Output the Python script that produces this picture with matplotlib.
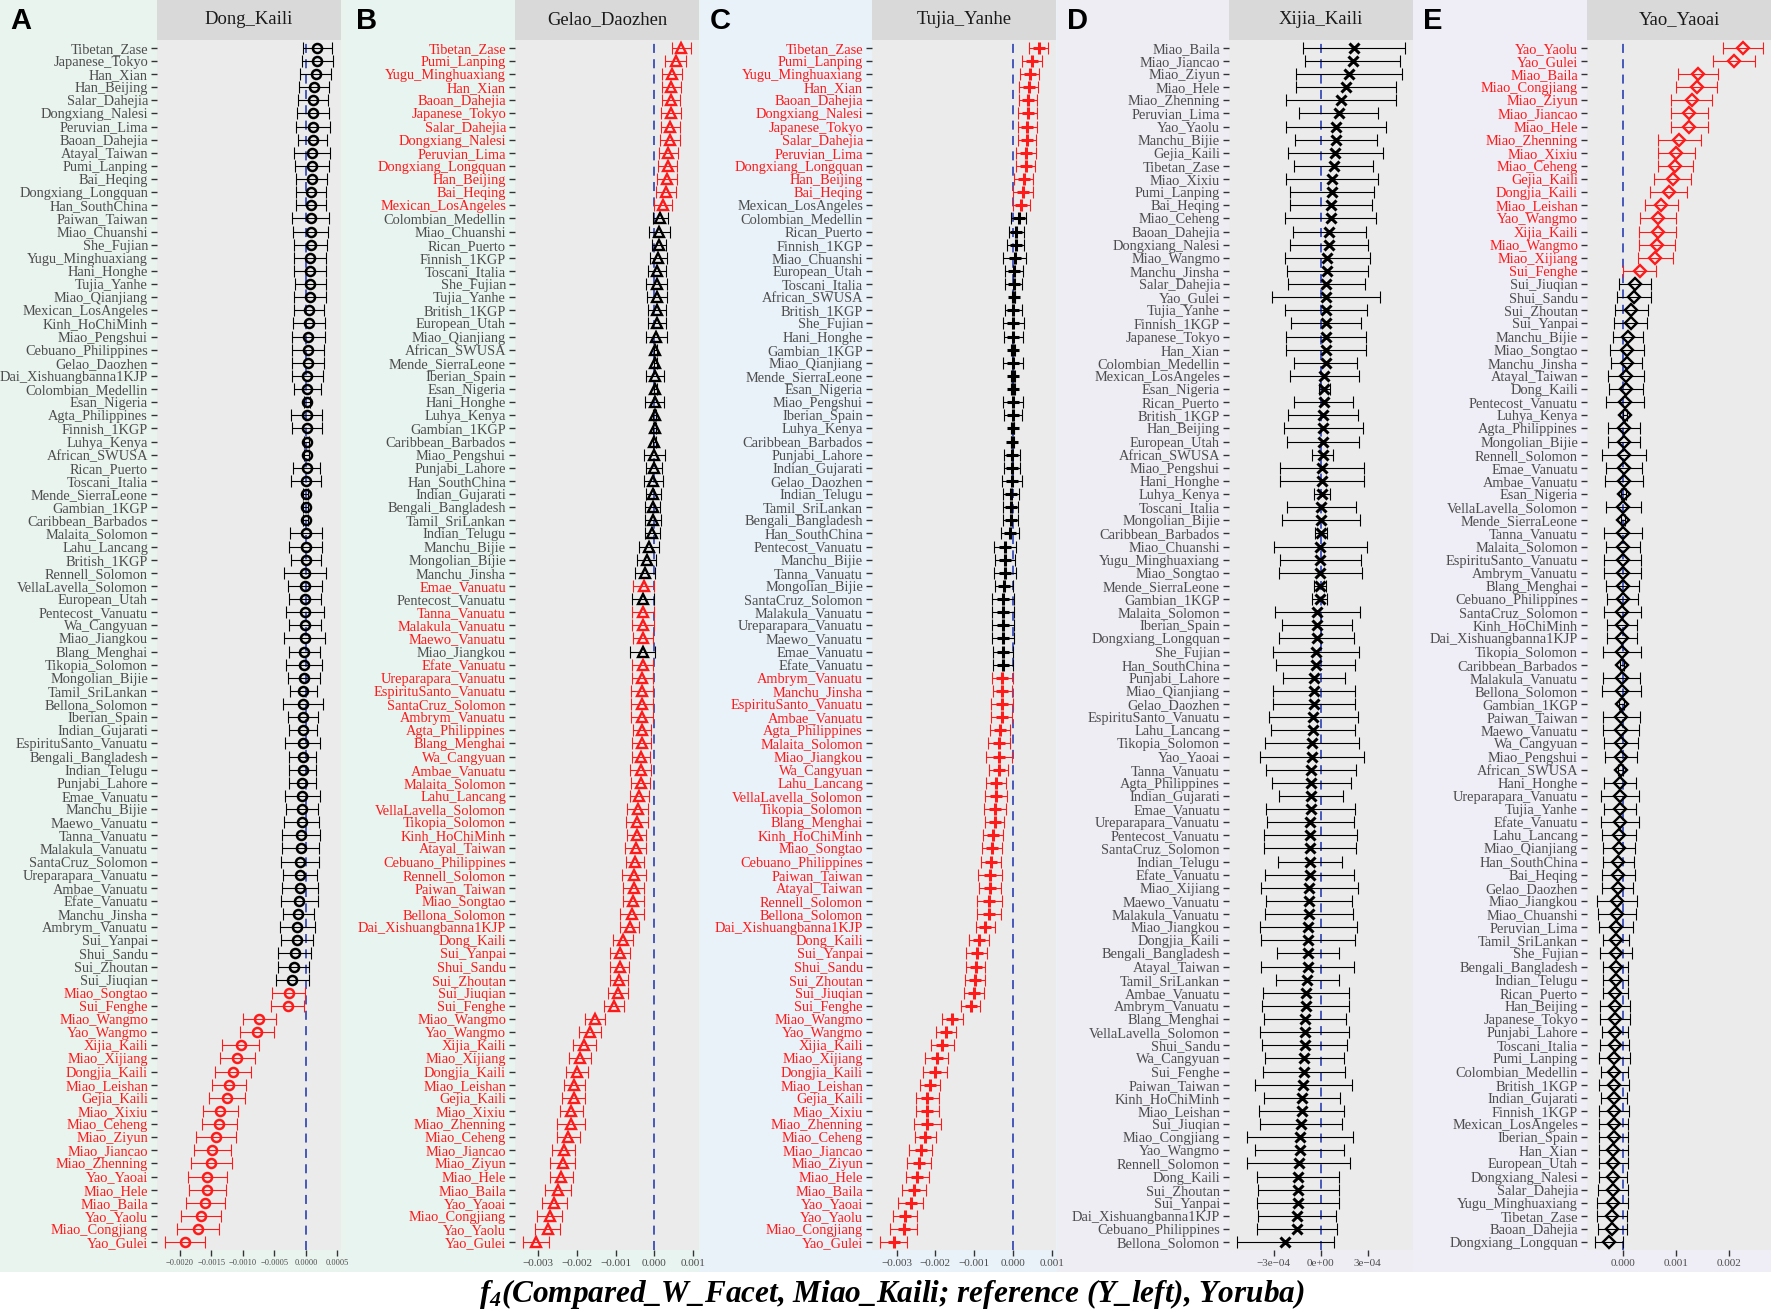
import matplotlib
matplotlib.use("Agg")
import matplotlib.pyplot as plt
from matplotlib.patches import Rectangle
import numpy as np

plt.rcParams['mathtext.fontset'] = 'custom'
plt.rcParams['mathtext.it'] = 'Liberation Serif:bold:italic'
plt.rcParams['mathtext.rm'] = 'Liberation Serif:bold:italic'
plt.rcParams['mathtext.bf'] = 'Liberation Serif:bold:italic'

# ---------------- data ----------------
A_title = "Dong_Kaili"
A_pops = ["Tibetan_Zase", "Japanese_Tokyo", "Han_Xian", "Han_Beijing", "Salar_Dahejia", "Dongxiang_Nalesi",
          "Peruvian_Lima", "Baoan_Dahejia", "Atayal_Taiwan", "Pumi_Lanping", "Bai_Heqing", "Dongxiang_Longquan",
          "Han_SouthChina", "Paiwan_Taiwan", "Miao_Chuanshi", "She_Fujian", "Yugu_Minghuaxiang", "Hani_Honghe",
          "Tujia_Yanhe", "Miao_Qianjiang", "Mexican_LosAngeles", "Kinh_HoChiMinh", "Miao_Pengshui",
          "Cebuano_Philippines", "Gelao_Daozhen", "Dai_Xishuangbanna1KJP", "Colombian_Medellin", "Esan_Nigeria",
          "Agta_Philippines", "Finnish_1KGP", "Luhya_Kenya", "African_SWUSA", "Rican_Puerto", "Toscani_Italia",
          "Mende_SierraLeone", "Gambian_1KGP", "Caribbean_Barbados", "Malaita_Solomon", "Lahu_Lancang",
          "British_1KGP", "Rennell_Solomon", "VellaLavella_Solomon", "European_Utah", "Pentecost_Vanuatu",
          "Wa_Cangyuan", "Miao_Jiangkou", "Blang_Menghai", "Tikopia_Solomon", "Mongolian_Bijie",
          "Tamil_SriLankan", "Bellona_Solomon", "Iberian_Spain", "Indian_Gujarati", "EspirituSanto_Vanuatu",
          "Bengali_Bangladesh", "Indian_Telugu", "Punjabi_Lahore", "Emae_Vanuatu", "Manchu_Bijie",
          "Maewo_Vanuatu", "Tanna_Vanuatu", "Malakula_Vanuatu", "SantaCruz_Solomon", "Ureparapara_Vanuatu",
          "Ambae_Vanuatu", "Efate_Vanuatu", "Manchu_Jinsha", "Ambrym_Vanuatu", "Sui_Yanpai", "Shui_Sandu",
          "Sui_Zhoutan", "Sui_Jiuqian", "Miao_Songtao", "Sui_Fenghe", "Miao_Wangmo", "Yao_Wangmo",
          "Xijia_Kaili", "Miao_Xijiang", "Dongjia_Kaili", "Miao_Leishan", "Gejia_Kaili", "Miao_Xixiu",
          "Miao_Ceheng", "Miao_Ziyun", "Miao_Jiancao", "Miao_Zhenning", "Yao_Yaoai", "Miao_Hele",
          "Miao_Baila", "Yao_Yaolu", "Miao_Congjiang", "Yao_Gulei"]
A_f4 = [1.79, 1.79, 1.53, 1.26, 1.16, 1.16, 1.11, 1.05, 1.00, 0.95, 0.89, 0.79, 0.79, 0.79, 0.74, 0.74,
        0.68, 0.68, 0.68, 0.63, 0.47, 0.47, 0.37, 0.32, 0.26, 0.21, 0.21, 0.16, 0.11, 0.11, 0.16, 0.16,
        0.11, 0.00, 0.00, 0.00, 0.00, -0.05, -0.05, -0.05, -0.11, -0.16, -0.16, -0.16, -0.16, -0.21,
        -0.26, -0.26, -0.37, -0.42, -0.42, -0.47, -0.47, -0.53, -0.53, -0.53, -0.58, -0.58, -0.63, -0.68,
        -0.74, -0.84, -0.95, -0.95, -1.00, -1.05, -1.21, -1.37, -1.42, -1.79, -1.95, -2.16, -2.74, -2.89,
        -7.42, -7.74, -10.37, -10.89, -11.63, -12.21, -12.53, -13.63, -13.74, -14.32, -14.84, -15.00,
        -15.63, -15.63, -15.95, -16.68, -17.11, -19.16]
A_err = [2.32, 2.45, 2.40, 2.42, 2.42, 2.55, 2.74, 2.29, 2.87, 2.68, 2.50, 2.37, 2.42, 2.95, 2.84, 2.63,
         2.50, 2.55, 2.45, 2.50, 2.37, 2.50, 2.58, 2.55, 2.55, 2.45, 2.18, 0.47, 2.50, 2.37, 0.40, 0.40,
         2.10, 2.37, 0.40, 0.40, 0.40, 2.55, 2.63, 2.40, 3.34, 2.71, 2.50, 3.00, 2.50, 3.21, 2.42, 2.84,
         2.55, 2.13, 3.16, 2.37, 2.18, 2.84, 2.10, 2.18, 2.18, 2.79, 2.60, 2.76, 3.05, 2.92, 2.95, 2.74,
         2.84, 2.95, 2.50, 2.82, 2.50, 2.58, 2.42, 2.58, 2.58, 2.60, 2.60, 2.68, 2.95, 2.82, 2.87, 2.68,
         2.84, 2.79, 2.76, 3.16, 2.92, 3.21, 3.13, 2.89, 3.03, 3.16, 3.34, 3.16]
A_sig = [0, 0, 0, 0, 0, 0, 0, 0, 0, 0,
         0, 0, 0, 0, 0, 0, 0, 0, 0, 0,
         0, 0, 0, 0, 0, 0, 0, 0, 0, 0,
         0, 0, 0, 0, 0, 0, 0, 0, 0, 0,
         0, 0, 0, 0, 0, 0, 0, 0, 0, 0,
         0, 0, 0, 0, 0, 0, 0, 0, 0, 0,
         0, 0, 0, 0, 0, 0, 0, 0, 0, 0,
         0, 0, 1, 1, 1, 1, 1, 1, 1, 1,
         1, 1, 1, 1, 1, 1, 1, 1, 1, 1,
         1, 1]
A_ticks = [-0.0020, -0.0015, -0.0010, -0.0005, 0.0, 0.0005]
A_ticklabels = ["\u22120.0020", "\u22120.0015", "\u22120.0010", "\u22120.0005", "0.0000", "0.0005"]

B_title = "Gelao_Daozhen"
B_pops = ["Tibetan_Zase", "Pumi_Lanping", "Yugu_Minghuaxiang", "Han_Xian", "Baoan_Dahejia", "Japanese_Tokyo",
          "Salar_Dahejia", "Dongxiang_Nalesi", "Peruvian_Lima", "Dongxiang_Longquan", "Han_Beijing",
          "Bai_Heqing", "Mexican_LosAngeles", "Colombian_Medellin", "Miao_Chuanshi", "Rican_Puerto",
          "Finnish_1KGP", "Toscani_Italia", "She_Fujian", "Tujia_Yanhe", "British_1KGP", "European_Utah",
          "Miao_Qianjiang", "African_SWUSA", "Mende_SierraLeone", "Iberian_Spain", "Esan_Nigeria",
          "Hani_Honghe", "Luhya_Kenya", "Gambian_1KGP", "Caribbean_Barbados", "Miao_Pengshui",
          "Punjabi_Lahore", "Han_SouthChina", "Indian_Gujarati", "Bengali_Bangladesh", "Tamil_SriLankan",
          "Indian_Telugu", "Manchu_Bijie", "Mongolian_Bijie", "Manchu_Jinsha", "Emae_Vanuatu",
          "Pentecost_Vanuatu", "Tanna_Vanuatu", "Malakula_Vanuatu", "Maewo_Vanuatu", "Miao_Jiangkou",
          "Efate_Vanuatu", "Ureparapara_Vanuatu", "EspirituSanto_Vanuatu", "SantaCruz_Solomon",
          "Ambrym_Vanuatu", "Agta_Philippines", "Blang_Menghai", "Wa_Cangyuan", "Ambae_Vanuatu",
          "Malaita_Solomon", "Lahu_Lancang", "VellaLavella_Solomon", "Tikopia_Solomon", "Kinh_HoChiMinh",
          "Atayal_Taiwan", "Cebuano_Philippines", "Rennell_Solomon", "Paiwan_Taiwan", "Miao_Songtao",
          "Bellona_Solomon", "Dai_Xishuangbanna1KJP", "Dong_Kaili", "Sui_Yanpai", "Shui_Sandu",
          "Sui_Zhoutan", "Sui_Jiuqian", "Sui_Fenghe", "Miao_Wangmo", "Yao_Wangmo", "Xijia_Kaili",
          "Miao_Xijiang", "Dongjia_Kaili", "Miao_Leishan", "Gejia_Kaili", "Miao_Xixiu", "Miao_Zhenning",
          "Miao_Ceheng", "Miao_Jiancao", "Miao_Ziyun", "Miao_Hele", "Miao_Baila", "Yao_Yaoai",
          "Miao_Congjiang", "Yao_Yaolu", "Yao_Gulei"]
B_f4 = [6.92, 5.47, 4.53, 4.36, 4.27, 4.27, 4.10, 4.02, 3.59, 3.42, 3.25, 2.99, 2.31,
        1.54, 1.28, 1.20, 1.03, 0.68, 0.60, 0.60, 0.60, 0.60, 0.51, 0.26, 0.26, 0.17, 0.17, 0.09, 0.09,
        0.09, 0.00, 0.00, -0.17, -0.26, -0.26, -0.43, -0.43, -0.51, -1.37, -2.05, -2.48,
        -2.74, -2.91, -2.91, -2.91, -2.91, -3.08,
        -3.08, -3.16, -3.16, -3.25, -3.25, -3.33, -3.33, -3.42, -3.50, -3.59, -3.93, -4.27, -4.44, -4.62,
        -4.87, -5.04, -5.21, -5.38, -5.47, -5.81, -6.41, -8.21, -8.89, -8.97, -9.15, -9.49, -10.34,
        -15.30, -16.58, -18.03, -19.15, -19.91, -20.60, -20.85, -21.45, -21.54, -22.14, -23.33, -23.68,
        -24.02, -24.87, -25.81, -27.01, -27.52, -30.43]
B_err = [2.39, 2.65, 2.48, 2.48, 2.39, 2.56, 2.39, 2.48, 2.39, 2.39, 2.56, 2.65, 2.31,
         1.92, 2.74, 1.84, 2.31, 2.35, 2.69, 2.56, 2.26, 2.26, 2.61, 0.40, 0.40, 2.26, 0.40, 2.48, 0.40,
         0.40, 0.40, 2.65, 2.09, 2.44, 2.01, 1.97, 2.01, 2.01, 2.65, 2.52, 2.52,
         2.74, 2.86, 2.86, 2.78, 2.65, 3.12,
         2.82, 2.69, 2.82, 2.90, 2.86, 2.31, 2.39, 2.39, 2.69, 2.56, 2.48, 2.69, 2.78, 2.44, 2.78, 2.39,
         3.12, 2.74, 2.69, 2.99, 2.35, 2.56, 2.56, 2.48, 2.35, 2.56, 2.61, 2.65, 2.74, 2.95, 2.91, 2.86,
         2.82, 3.08, 2.99, 3.55, 2.86, 2.99, 3.29, 2.99, 3.29, 3.21, 3.29, 3.12, 3.33]
B_sig = [1, 1, 1, 1, 1, 1, 1, 1, 1, 1,
         1, 1, 1, 0, 0, 0, 0, 0, 0, 0,
         0, 0, 0, 0, 0, 0, 0, 0, 0, 0,
         0, 0, 0, 0, 0, 0, 0, 0, 0, 0,
         0, 1, 0, 1, 1, 1, 0, 1, 1, 1,
         1, 1, 1, 1, 1, 1, 1, 1, 1, 1,
         1, 1, 1, 1, 1, 1, 1, 1, 1, 1,
         1, 1, 1, 1, 1, 1, 1, 1, 1, 1,
         1, 1, 1, 1, 1, 1, 1, 1, 1, 1,
         1, 1]
B_ticks = [-0.003, -0.002, -0.001, 0.0, 0.001]
B_ticklabels = ["\u22120.003", "\u22120.002", "\u22120.001", "0.000", "0.001"]

C_title = "Tujia_Yanhe"
C_pops = ["Tibetan_Zase", "Pumi_Lanping", "Yugu_Minghuaxiang", "Han_Xian", "Baoan_Dahejia", "Dongxiang_Nalesi",
          "Japanese_Tokyo", "Salar_Dahejia", "Peruvian_Lima", "Dongxiang_Longquan", "Han_Beijing",
          "Bai_Heqing", "Mexican_LosAngeles", "Colombian_Medellin", "Rican_Puerto", "Finnish_1KGP",
          "Miao_Chuanshi", "European_Utah", "Toscani_Italia", "African_SWUSA", "British_1KGP", "She_Fujian",
          "Hani_Honghe", "Gambian_1KGP", "Miao_Qianjiang", "Mende_SierraLeone", "Esan_Nigeria",
          "Miao_Pengshui", "Iberian_Spain", "Luhya_Kenya", "Caribbean_Barbados", "Punjabi_Lahore",
          "Indian_Gujarati", "Gelao_Daozhen", "Indian_Telugu", "Tamil_SriLankan", "Bengali_Bangladesh",
          "Han_SouthChina", "Pentecost_Vanuatu", "Manchu_Bijie", "Tanna_Vanuatu", "Mongolian_Bijie",
          "SantaCruz_Solomon", "Malakula_Vanuatu", "Ureparapara_Vanuatu", "Maewo_Vanuatu", "Emae_Vanuatu",
          "Efate_Vanuatu", "Ambrym_Vanuatu", "Manchu_Jinsha", "EspirituSanto_Vanuatu", "Ambae_Vanuatu",
          "Agta_Philippines", "Malaita_Solomon", "Miao_Jiangkou", "Wa_Cangyuan", "Lahu_Lancang",
          "VellaLavella_Solomon", "Tikopia_Solomon", "Blang_Menghai", "Kinh_HoChiMinh", "Miao_Songtao",
          "Cebuano_Philippines", "Paiwan_Taiwan", "Atayal_Taiwan", "Rennell_Solomon", "Bellona_Solomon",
          "Dai_Xishuangbanna1KJP", "Dong_Kaili", "Sui_Yanpai", "Shui_Sandu", "Sui_Zhoutan", "Sui_Jiuqian",
          "Sui_Fenghe", "Miao_Wangmo", "Yao_Wangmo", "Xijia_Kaili", "Miao_Xijiang", "Dongjia_Kaili",
          "Miao_Leishan", "Gejia_Kaili", "Miao_Xixiu", "Miao_Zhenning", "Miao_Ceheng", "Miao_Jiancao",
          "Miao_Ziyun", "Miao_Hele", "Miao_Baila", "Yao_Yaoai", "Yao_Yaolu", "Miao_Congjiang", "Yao_Gulei"]
C_f4 = [6.58, 4.87, 4.27, 4.02, 3.85, 3.85, 3.68, 3.59, 3.42, 3.25, 2.82, 2.65, 2.14,
        1.45, 0.85, 0.68, 0.43, 0.34, 0.17, 0.17, 0.09, 0.09, 0.09, 0.00, 0.00, 0.00, 0.00, 0.00, 0.00,
        -0.09, -0.17, -0.26, -0.26, -0.34, -0.51, -0.60, -0.60, -0.77, -2.05, -2.05, -2.14, -2.31,
        -2.48, -2.56, -2.56, -2.56, -2.56, -2.56,
        -2.74, -2.74, -2.82, -2.91, -3.42, -3.50, -3.59, -3.68, -4.27, -4.36, -4.70, -4.70, -5.13,
        -5.38, -5.64, -5.90, -5.98, -6.07, -6.15, -7.09, -8.72, -9.40, -9.66, -9.83, -10.09, -10.94,
        -15.64, -17.26, -18.20, -19.66, -20.09, -21.37, -22.05, -22.05, -22.14, -22.65, -23.76,
        -24.19, -24.62, -25.56, -26.32, -27.78, -28.20, -30.77]
C_err = [2.35, 2.56, 2.56, 2.44, 2.31, 2.44, 2.44, 2.35, 2.56, 2.44, 2.44, 2.56, 2.14,
         1.92, 1.92, 2.26, 2.99, 2.35, 2.22, 0.40, 2.26, 2.65, 2.48, 0.40, 2.56, 0.40, 0.40, 2.56, 2.31,
         0.40, 0.40, 2.09, 2.14, 2.56, 2.05, 2.01, 2.01, 2.35, 2.82, 2.52, 2.82, 2.31, 2.86, 2.74, 2.74,
         2.74, 2.69, 2.69,
         2.74, 2.48, 2.78, 2.78, 2.56, 2.82, 3.25, 2.44, 2.56, 2.82, 2.82, 2.39, 2.48, 2.65, 2.48, 3.12,
         2.91, 3.33, 3.12, 2.35, 2.56, 2.65, 2.56, 2.65, 2.65, 2.56, 2.69, 2.69, 2.95, 2.91, 2.99, 2.65,
         3.03, 3.03, 3.46, 2.74, 2.95, 3.12, 2.99, 3.12, 3.21, 3.16, 3.42, 3.42]
C_sig = [1, 1, 1, 1, 1, 1, 1, 1, 1, 1,
         1, 1, 1, 0, 0, 0, 0, 0, 0, 0,
         0, 0, 0, 0, 0, 0, 0, 0, 0, 0,
         0, 0, 0, 0, 0, 0, 0, 0, 0, 0,
         0, 0, 0, 0, 0, 0, 0, 0, 1, 1,
         1, 1, 1, 1, 1, 1, 1, 1, 1, 1,
         1, 1, 1, 1, 1, 1, 1, 1, 1, 1,
         1, 1, 1, 1, 1, 1, 1, 1, 1, 1,
         1, 1, 1, 1, 1, 1, 1, 1, 1, 1,
         1, 1]
C_black_labels = ["Mexican_LosAngeles"]
C_ticks = [-0.003, -0.002, -0.001, 0.0, 0.001]
C_ticklabels = ["\u22120.003", "\u22120.002", "\u22120.001", "0.000", "0.001"]

D_title = "Xijia_Kaili"
D_pops = ["Miao_Baila", "Miao_Jiancao", "Miao_Ziyun", "Miao_Hele", "Miao_Zhenning", "Peruvian_Lima",
          "Yao_Yaolu", "Manchu_Bijie", "Gejia_Kaili", "Tibetan_Zase", "Miao_Xixiu", "Pumi_Lanping",
          "Bai_Heqing", "Miao_Ceheng", "Baoan_Dahejia", "Dongxiang_Nalesi", "Miao_Wangmo", "Manchu_Jinsha",
          "Salar_Dahejia", "Yao_Gulei", "Tujia_Yanhe", "Finnish_1KGP", "Japanese_Tokyo", "Han_Xian",
          "Colombian_Medellin", "Mexican_LosAngeles", "Esan_Nigeria", "Rican_Puerto", "British_1KGP",
          "Han_Beijing", "European_Utah", "African_SWUSA", "Miao_Pengshui", "Hani_Honghe", "Luhya_Kenya",
          "Toscani_Italia", "Mongolian_Bijie", "Caribbean_Barbados", "Miao_Chuanshi", "Yugu_Minghuaxiang",
          "Miao_Songtao", "Mende_SierraLeone", "Gambian_1KGP", "Malaita_Solomon", "Iberian_Spain",
          "Dongxiang_Longquan", "She_Fujian", "Han_SouthChina", "Punjabi_Lahore", "Miao_Qianjiang",
          "Gelao_Daozhen", "EspirituSanto_Vanuatu", "Lahu_Lancang", "Tikopia_Solomon", "Yao_Yaoai",
          "Tanna_Vanuatu", "Agta_Philippines", "Indian_Gujarati", "Emae_Vanuatu", "Ureparapara_Vanuatu",
          "Pentecost_Vanuatu", "SantaCruz_Solomon", "Indian_Telugu", "Efate_Vanuatu", "Miao_Xijiang",
          "Maewo_Vanuatu", "Malakula_Vanuatu", "Miao_Jiangkou", "Dongjia_Kaili", "Bengali_Bangladesh",
          "Atayal_Taiwan", "Tamil_SriLankan", "Ambae_Vanuatu", "Ambrym_Vanuatu", "Blang_Menghai",
          "VellaLavella_Solomon", "Shui_Sandu", "Wa_Cangyuan", "Sui_Fenghe", "Paiwan_Taiwan",
          "Kinh_HoChiMinh", "Miao_Leishan", "Sui_Jiuqian", "Miao_Congjiang", "Yao_Wangmo",
          "Rennell_Solomon", "Dong_Kaili", "Sui_Zhoutan", "Sui_Yanpai", "Dai_Xishuangbanna1KJP",
          "Cebuano_Philippines", "Bellona_Solomon"]
D_f4 = [2.11, 2.03, 1.80, 1.61, 1.29, 1.14, 0.99, 0.97, 0.93, 0.82, 0.72, 0.70, 0.66, 0.63, 0.55, 0.53,
        0.42, 0.40, 0.36, 0.34, 0.34, 0.32, 0.32, 0.32, 0.30, 0.23, 0.23, 0.17, 0.15, 0.15, 0.13, 0.11,
        0.08, 0.08, 0.06, 0.04, 0.02, 0.02, -0.04, -0.04, -0.04, -0.06, -0.08, -0.23, -0.25, -0.27,
        -0.30, -0.32, -0.44, -0.46, -0.46, -0.49, -0.51, -0.55, -0.57, -0.61, -0.61, -0.63, -0.66, -0.68,
        -0.68, -0.70, -0.72, -0.72, -0.74, -0.76, -0.78, -0.80, -0.82, -0.82, -0.85, -0.87, -0.95, -0.97,
        -1.01, -1.04, -1.04, -1.06, -1.08, -1.12, -1.20, -1.23, -1.25, -1.33, -1.35, -1.42, -1.44, -1.44,
        -1.46, -1.52, -1.52, -2.26]
D_err = [3.24, 3.04, 3.39, 3.22, 3.52, 2.51, 3.19, 2.60, 3.04, 2.53, 2.93, 2.68, 2.61, 2.91, 2.33, 2.50,
         2.73, 2.58, 2.47, 3.44, 2.63, 2.22, 2.55, 2.56, 2.01, 2.19, 0.35, 1.86, 2.25, 2.51, 2.28, 0.66,
         2.66, 2.66, 0.51, 2.21, 2.49, 0.40, 2.96, 2.58, 2.66, 0.37, 0.50, 2.70, 2.22, 2.39,
         2.75, 2.53, 1.98, 2.62, 2.61, 2.85, 2.67, 3.00, 3.32, 2.88, 2.54, 2.03, 2.82, 2.78, 2.97, 2.94,
         2.04, 2.84, 3.09, 2.74, 2.81, 3.09, 3.03, 2.01, 2.94, 2.02, 2.74, 2.78, 2.61, 2.83, 2.71, 2.51,
         2.60, 3.09, 2.42, 2.72, 2.61, 3.38, 2.83, 3.29, 2.63, 2.59, 2.60, 2.47, 2.55, 3.07]
D_sig = [0, 0, 0, 0, 0, 0, 0, 0, 0, 0,
         0, 0, 0, 0, 0, 0, 0, 0, 0, 0,
         0, 0, 0, 0, 0, 0, 0, 0, 0, 0,
         0, 0, 0, 0, 0, 0, 0, 0, 0, 0,
         0, 0, 0, 0, 0, 0, 0, 0, 0, 0,
         0, 0, 0, 0, 0, 0, 0, 0, 0, 0,
         0, 0, 0, 0, 0, 0, 0, 0, 0, 0,
         0, 0, 0, 0, 0, 0, 0, 0, 0, 0,
         0, 0, 0, 0, 0, 0, 0, 0, 0, 0,
         0, 0]
D_ticks = [-3e-4, 0.0, 3e-4]
D_ticklabels = ["\u22123e\u221204", "0e+00", "3e\u221204"]

E_title = "Yao_Yaoai"
E_pops = ["Yao_Yaolu", "Yao_Gulei", "Miao_Baila", "Miao_Congjiang", "Miao_Ziyun", "Miao_Jiancao", "Miao_Hele",
          "Miao_Zhenning", "Miao_Xixiu", "Miao_Ceheng", "Gejia_Kaili", "Dongjia_Kaili", "Miao_Leishan",
          "Yao_Wangmo", "Xijia_Kaili", "Miao_Wangmo", "Miao_Xijiang", "Sui_Fenghe", "Sui_Jiuqian",
          "Shui_Sandu", "Sui_Zhoutan", "Sui_Yanpai", "Manchu_Bijie", "Miao_Songtao", "Manchu_Jinsha",
          "Atayal_Taiwan", "Dong_Kaili", "Pentecost_Vanuatu", "Luhya_Kenya", "Agta_Philippines",
          "Mongolian_Bijie", "Rennell_Solomon", "Emae_Vanuatu", "Ambae_Vanuatu", "Esan_Nigeria",
          "VellaLavella_Solomon", "Mende_SierraLeone", "Tanna_Vanuatu", "Malaita_Solomon",
          "EspirituSanto_Vanuatu", "Ambrym_Vanuatu", "Blang_Menghai", "Cebuano_Philippines",
          "SantaCruz_Solomon", "Kinh_HoChiMinh", "Dai_Xishuangbanna1KJP", "Tikopia_Solomon",
          "Caribbean_Barbados", "Malakula_Vanuatu", "Bellona_Solomon", "Gambian_1KGP", "Paiwan_Taiwan",
          "Maewo_Vanuatu", "Wa_Cangyuan", "Miao_Pengshui", "African_SWUSA", "Hani_Honghe",
          "Ureparapara_Vanuatu", "Tujia_Yanhe", "Efate_Vanuatu", "Lahu_Lancang", "Miao_Qianjiang",
          "Han_SouthChina", "Bai_Heqing", "Gelao_Daozhen", "Miao_Jiangkou", "Miao_Chuanshi",
          "Peruvian_Lima", "Tamil_SriLankan", "She_Fujian", "Bengali_Bangladesh", "Indian_Telugu",
          "Rican_Puerto", "Han_Beijing", "Japanese_Tokyo", "Punjabi_Lahore", "Toscani_Italia",
          "Pumi_Lanping", "Colombian_Medellin", "British_1KGP", "Indian_Gujarati", "Finnish_1KGP",
          "Mexican_LosAngeles", "Iberian_Spain", "Han_Xian", "European_Utah", "Dongxiang_Nalesi",
          "Salar_Dahejia", "Yugu_Minghuaxiang", "Tibetan_Zase", "Baoan_Dahejia", "Dongxiang_Longquan"]
E_f4 = [22.49, 20.81, 14.08, 13.83, 12.90, 12.46, 12.46, 10.59, 10.03, 9.84, 9.35, 8.60, 7.23, 6.60,
        6.54, 6.42, 6.04, 3.18,
        2.31, 2.12, 1.56, 1.43, 0.93, 0.75, 0.69, 0.62, 0.56, 0.44, 0.37, 0.25, 0.25, 0.19, 0.19, 0.19,
        0.12, 0.06, 0.06, 0.00, 0.00, 0.00, 0.00, -0.06, -0.06, -0.12, -0.12, -0.19,
        -0.19, -0.19, -0.25, -0.25, -0.25, -0.31, -0.37, -0.37, -0.37, -0.44, -0.50, -0.50, -0.56, -0.62,
        -0.69, -0.81, -0.87, -0.87, -1.00, -1.12, -1.18, -1.25, -1.31, -1.31, -1.37, -1.37, -1.43, -1.50,
        -1.50, -1.50, -1.56, -1.62, -1.62, -1.68, -1.68, -1.68, -1.74, -1.74, -1.81, -1.81, -1.81, -1.87,
        -1.93, -1.99, -1.99, -2.55]
E_err = [3.74, 3.96, 3.74, 3.83, 3.86, 3.46, 3.46, 4.05, 3.43, 3.27, 3.52, 3.43, 3.12, 3.40, 3.52, 3.36,
         3.30, 3.08,
         3.02, 3.24, 3.08, 3.05, 2.87, 3.15, 2.90, 3.36, 3.24, 3.55, 0.40, 3.02, 2.96, 4.14, 3.43, 3.49,
         0.40, 3.27, 0.40, 3.58, 3.21, 3.49, 3.49, 3.12, 2.87, 3.49, 2.80, 2.87,
         3.64, 0.40, 3.46, 3.61, 0.40, 3.52, 3.36, 3.18, 3.05, 0.40, 3.02, 3.55, 2.93, 3.55, 3.18, 2.99,
         2.90, 3.12, 2.87, 3.83, 3.58, 3.18, 2.43, 2.99, 2.34, 2.34, 2.34, 2.80, 2.83, 2.49, 2.71, 2.90,
         2.49, 2.74, 2.43, 2.74, 2.74, 2.74, 2.74, 2.74, 2.65, 2.77, 2.96, 2.80, 2.74, 2.62]
E_sig = [1, 1, 1, 1, 1, 1, 1, 1, 1, 1,
         1, 1, 1, 1, 1, 1, 1, 1, 0, 0,
         0, 0, 0, 0, 0, 0, 0, 0, 0, 0,
         0, 0, 0, 0, 0, 0, 0, 0, 0, 0,
         0, 0, 0, 0, 0, 0, 0, 0, 0, 0,
         0, 0, 0, 0, 0, 0, 0, 0, 0, 0,
         0, 0, 0, 0, 0, 0, 0, 0, 0, 0,
         0, 0, 0, 0, 0, 0, 0, 0, 0, 0,
         0, 0, 0, 0, 0, 0, 0, 0, 0, 0,
         0, 0]
E_ticks = [0.0, 0.001, 0.002]
E_ticklabels = ["0.000", "0.001", "0.002"]

UNIT = 1e-4  # f4 values above are given in units of 1e-4

xlabel_text = r"$f_4$(Compared_W_Facet, Miao_Kaili; reference (Y_left), Yoruba)"

# ---------------- styling ----------------
W, H = 1771, 1312
RED = "#FF1A1A"
BLK = "#000000"
LBL_GRAY = "#4D4D4D"
PANEL_BG = "#EBEBEB"
STRIP_BG = "#D9D9D9"
VLINE = "#3A4DB5"

panels = [
    dict(letter="A", title=A_title, pops=A_pops, f4=A_f4, err=A_err, sig=A_sig, ticks=A_ticks,
         ticklabels=A_ticklabels, marker="o", ms=6.5, mew=1.8, tick_fs=6.0, black=[],
         col=(0, 346), left=157, tint="#E9F4EF"),
    dict(letter="B", title=B_title, pops=B_pops, f4=B_f4, err=B_err, sig=B_sig, ticks=B_ticks,
         ticklabels=B_ticklabels, marker="^", ms=7.2, mew=1.7, tick_fs=8.0, black=[],
         col=(346, 700), left=515, tint="#E8F4F0"),
    dict(letter="C", title=C_title, pops=C_pops, f4=C_f4, err=C_err, sig=C_sig, ticks=C_ticks,
         ticklabels=C_ticklabels, marker="+", ms=8.5, mew=2.2, tick_fs=8.0, black=C_black_labels,
         col=(700, 1057), left=872, tint="#E9F2F9"),
    dict(letter="D", title=D_title, pops=D_pops, f4=D_f4, err=D_err, sig=D_sig, ticks=D_ticks,
         ticklabels=D_ticklabels, marker="x", ms=7.0, mew=2.2, tick_fs=8.0, black=[],
         col=(1057, 1413), left=1229, tint="#EEEDF4"),
    dict(letter="E", title=E_title, pops=E_pops, f4=E_f4, err=E_err, sig=E_sig, ticks=E_ticks,
         ticklabels=E_ticklabels, marker="D", ms=6.4, mew=1.7, tick_fs=8.0, black=[],
         col=(1413, 1771), left=1587, tint="#EFEDF5"),
]

fig = plt.figure(figsize=(W / 100, H / 100), dpi=100)
fig.patch.set_facecolor("white")

panel_top, panel_bot, tint_bot = 40, 1250, 1272
pw = 184

for p in panels:
    c0, c1 = p["col"]
    fig.patches.append(Rectangle((c0 / W, 1 - tint_bot / H), (c1 - c0) / W, tint_bot / H,
                                 transform=fig.transFigure, facecolor=p["tint"], edgecolor="none",
                                 zorder=-5))
    fig.text((c0 + 10) / W, 1 - 21 / H, p["letter"], fontsize=21, fontweight="bold",
             family="Liberation Sans", ha="left", va="center", zorder=5)

    ax = fig.add_axes([p["left"] / W, 1 - panel_bot / H, pw / W, (panel_bot - panel_top) / H])
    ax.set_facecolor(PANEL_BG)
    for s in ax.spines.values():
        s.set_visible(False)

    n = len(p["pops"])
    y = np.arange(n)[::-1]
    est = np.array(p["f4"]) * UNIT
    err = np.array(p["err"]) * UNIT
    sig = np.array(p["sig"], dtype=bool)

    ax.axvline(0, color=VLINE, lw=1.3, ls=(0, (5, 3.5)), zorder=1)
    for mask, colr in ((~sig, BLK), (sig, RED)):
        if mask.any():
            ax.errorbar(est[mask], y[mask], xerr=err[mask], fmt="none", ecolor=colr,
                        elinewidth=0.8, capsize=4.2, capthick=0.8, zorder=2)
            ax.plot(est[mask], y[mask], linestyle="none", marker=p["marker"], ms=p["ms"],
                    mew=p["mew"], mfc="none", mec=colr, zorder=3)

    lo, hi = (est - err).min(), (est + err).max()
    pad = 0.05 * (hi - lo)
    ax.set_xlim(lo - pad, hi + pad)
    ax.set_ylim(-0.6, n - 1 + 0.6)

    ax.set_yticks(y)
    ax.set_yticklabels(p["pops"], fontsize=10.4, family="Liberation Serif")
    for lab, s, name in zip(ax.get_yticklabels(), sig, p["pops"]):
        lab.set_color(RED if (s and name not in p["black"]) else LBL_GRAY)
    ax.set_xticks(p["ticks"])
    ax.set_xticklabels(p["ticklabels"], fontsize=p["tick_fs"], family="Liberation Serif",
                       color=LBL_GRAY)
    ax.tick_params(axis="y", length=4.5, width=1.0, color="#333333", pad=2)
    ax.tick_params(axis="x", length=4.5, width=1.0, color="#333333", pad=2)

    sax = fig.add_axes([p["left"] / W, 1 - panel_top / H, pw / W, panel_top / H])
    sax.set_facecolor(STRIP_BG)
    sax.set_xticks([])
    sax.set_yticks([])
    for s in sax.spines.values():
        s.set_visible(False)
    sax.text(0.5, 0.5, p["title"], transform=sax.transAxes, ha="center", va="center",
             fontsize=13.4, family="Liberation Serif", color="#1A1A1A")

fig.text(892 / W, 1 - 1294 / H, xlabel_text, ha="center", va="center", fontsize=22.5,
         family="Liberation Serif", fontweight="bold", fontstyle="italic")

fig.savefig("out.png", dpi=100)
